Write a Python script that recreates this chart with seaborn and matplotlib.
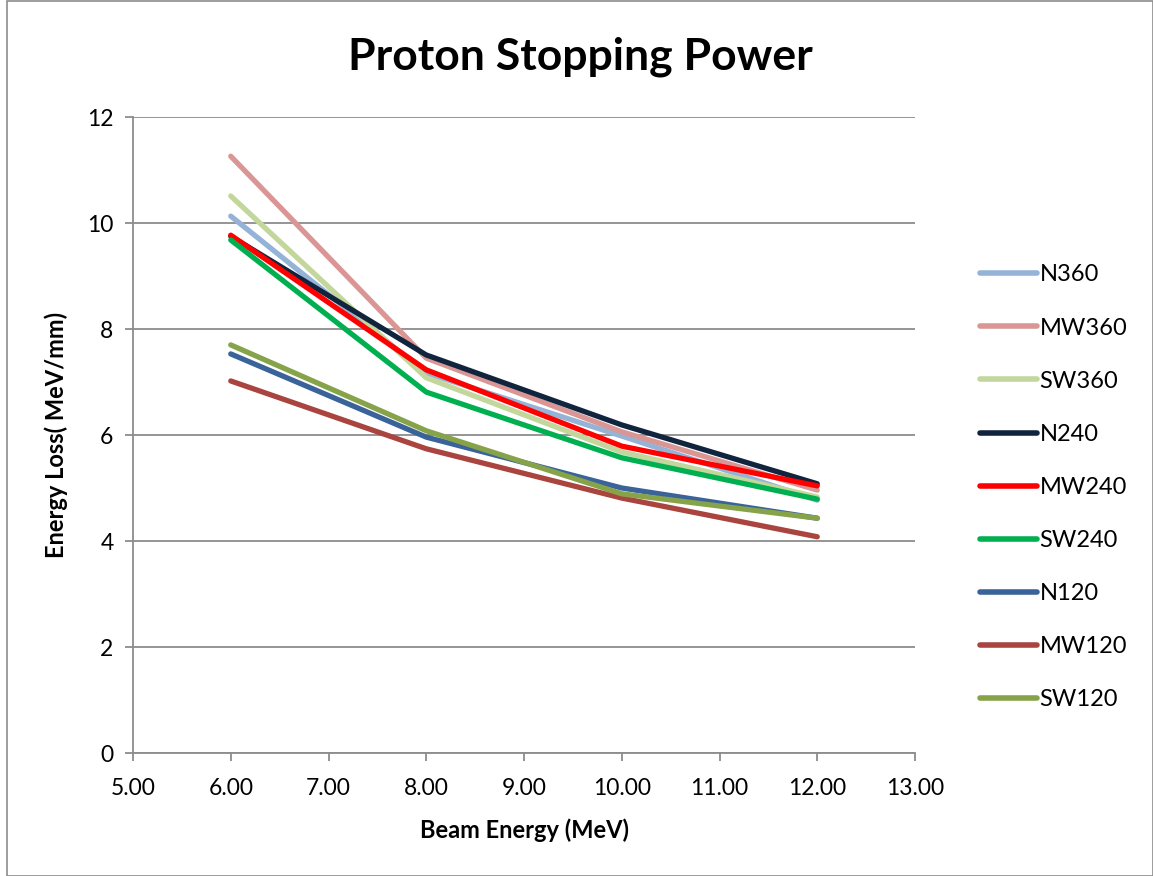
import numpy as np
import pandas as pd
import matplotlib
matplotlib.use("Agg")
import matplotlib.pyplot as plt
import seaborn as sns

beam_energy = [6.0, 8.0, 10.0, 12.0]
N360 = [10.13, 7.17, 5.98, 4.77]
MW360 = [11.26, 7.45, 6.06, 4.96]
SW360 = [10.51, 7.08, 5.68, 4.83]
N240 = [9.75, 7.51, 6.19, 5.08]
MW240 = [9.77, 7.23, 5.79, 5.04]
SW240 = [9.68, 6.81, 5.57, 4.79]
N120 = [7.53, 5.96, 5.00, 4.43]
MW120 = [7.02, 5.74, 4.81, 4.08]
SW120 = [7.70, 6.08, 4.89, 4.43]

series_names = ["N360", "MW360", "SW360", "N240", "MW240", "SW240", "N120", "MW120", "SW120"]
series_vals = [N360, MW360, SW360, N240, MW240, SW240, N120, MW120, SW120]
colors = ["#95B3D7", "#D99694", "#C3D69B", "#10243E", "#FF0000", "#00B050", "#3A6399", "#A9443F", "#86A34A"]

rows = []
for name, vals in zip(series_names, series_vals):
    for x, y in zip(beam_energy, vals):
        rows.append({"Beam Energy": x, "Energy Loss": y, "Series": name})
df = pd.DataFrame(rows)

sns.set_theme(style="white")
plt.rcParams["font.family"] = ["Lato", "DejaVu Sans"]
plt.rcParams["text.color"] = "black"
plt.rcParams["axes.labelcolor"] = "black"

fig = plt.figure(figsize=(11.53, 8.76), dpi=100)
ax = fig.add_axes([133/1153, 1 - 753/876, (915-133)/1153, (753-117)/876])

sns.lineplot(data=df, x="Beam Energy", y="Energy Loss", hue="Series",
             hue_order=series_names, palette=colors, linewidth=3.8, ax=ax,
             legend=True)
for ln in ax.get_lines():
    ln.set_solid_capstyle("round")

ax.set_xlim(5, 13)
ax.set_ylim(0, 12)
ax.set_xticks(np.arange(5, 13.01, 1))
ax.set_xticklabels([f"{v:.2f}" for v in np.arange(5, 13.01, 1)], fontsize=16.5)
ax.set_yticks(np.arange(0, 12.01, 2))
ax.set_yticklabels([str(int(v)) for v in np.arange(0, 12.01, 2)], fontsize=16.5)
ax.yaxis.grid(True, color="#8C8C8C", linewidth=1.3)
ax.set_axisbelow(True)
for s in ["top", "right"]:
    ax.spines[s].set_visible(False)
for s in ["left", "bottom"]:
    ax.spines[s].set_color("#8C8C8C")
    ax.spines[s].set_linewidth(1.3)
ax.tick_params(axis="both", which="both", direction="out", length=6, width=1.3,
               color="#8C8C8C", bottom=True, left=True, labelcolor="black")
ax.tick_params(axis="x", pad=12)
ax.tick_params(axis="y", pad=8)

ax.set_xlabel("Beam Energy (MeV)", fontsize=17, fontweight="bold", labelpad=14)
ax.set_ylabel("Energy Loss( MeV/mm)", fontsize=17, fontweight="bold", labelpad=14)

fig.suptitle("Proton Stopping Power", x=0.503, y=1 - 57/876, va="center",
             fontsize=32, fontweight="bold", color="black")

leg = ax.legend(loc="upper left", bbox_to_anchor=(971/1153, 1 - 255/876),
                bbox_transform=fig.transFigure, frameon=False, fontsize=17,
                handlelength=2.4, handletextpad=0.1, labelspacing=1.36,
                borderaxespad=0)
for h in leg.get_lines():
    h.set_linewidth(4)
    h.set_solid_capstyle("round")

border = plt.Rectangle((0.006, 0.0), 0.994, 0.999, transform=fig.transFigure,
                       fill=False, edgecolor="#8C8C8C", linewidth=1.2)
fig.patches.append(border)

fig.savefig("out.png", dpi=100, facecolor="white")
